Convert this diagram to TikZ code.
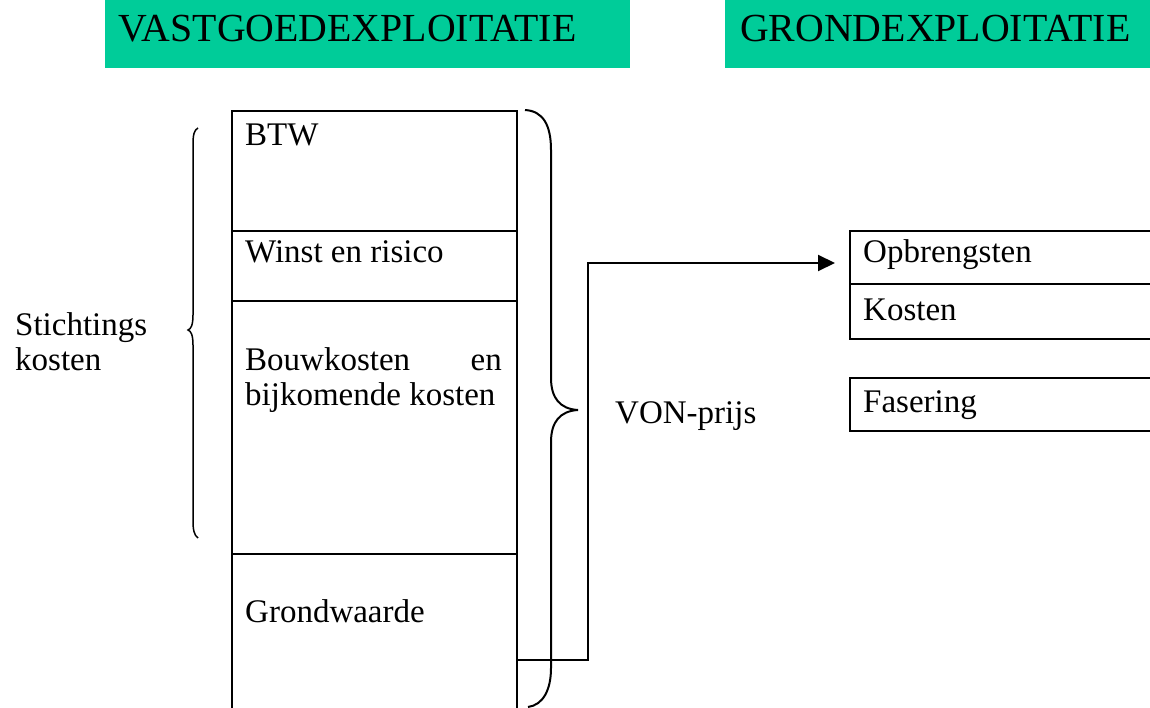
\documentclass[tikz,border=0pt]{standalone}
\usepackage{fontspec}
\setmainfont{Liberation Serif}
\usetikzlibrary{arrows.meta}
\definecolor{headgreen}{RGB}{0,204,153}
\tikzset{
  cell/.style={draw, line width=2pt, rectangle, inner sep=0pt, anchor=north west},
  txt/.style={anchor=base west, inner sep=0pt, font=\fontsize{33}{39}\selectfont},
  head/.style={anchor=base west, inner sep=0pt, font=\fontsize{39.8}{46}\selectfont},
  headbox/.style={fill=headgreen, draw=none, rectangle, inner sep=0pt, anchor=north west},
  brace/.style={line width=2pt},
  conn/.style={line width=2pt, -{Triangle[length=17pt,width=16pt]}}
}
\begin{document}
\begin{tikzpicture}[x=1pt,y=-1pt]
\clip (0,0) rectangle (1150,708);
\fill[white] (0,0) rectangle (1150,708);
% headings
\node[headbox, minimum width=525pt, minimum height=68pt] (hv) at (105,0) {};
\node[headbox, minimum width=440pt, minimum height=68pt] (hg) at (725,0) {};
\node[head] (hvt) at (118,42) {VASTGOEDEXPLOITATIE};
\node[head] (hgt) at (740,42) {GRONDEXPLOITATIE};
% column cells
\node[cell, minimum width=285pt, minimum height=120pt] (btw) at (231,110) {};
\node[cell, minimum width=285pt, minimum height=70pt] (winst) at (231,230) {};
\node[cell, minimum width=285pt, minimum height=253pt] (bouw) at (231,300) {};
\node[cell, minimum width=285pt, minimum height=180pt] (grond) at (231,553) {};
\node[txt] (btwt) at (245,146) {BTW};
\node[txt] (winstt) at (245,263) {Winst en risico};
\node[txt] (bouwt1) at (245,370) {Bouwkosten};
\node[txt, anchor=base east] (bouwt2) at (502,370) {en};
\node[txt] (bouwt3) at (245,405) {bijkomende kosten};
\node[txt] (grondt) at (245,622) {Grondwaarde};
% left label
\node[txt] (sk1) at (15,335) {Stichtings};
\node[txt] (sk2) at (15,370) {kosten};
\node[txt] (von) at (615,423) {VON-prijs};
% right boxes
\node[cell, minimum width=320pt, minimum height=53pt] (opbr) at (849,230) {};
\node[cell, minimum width=320pt, minimum height=55pt] (kost) at (849,283) {};
\node[cell, minimum width=320pt, minimum height=53pt] (fas) at (849,377) {};
\node[txt] (opbrt) at (863,263) {Opbrengsten};
\node[txt] (kostt) at (863,320) {Kosten};
\node[txt] (fast) at (863,412) {Fasering};
% braces
\draw[brace] (525,110) .. controls (543,111) and (551,125) .. (551,150) -- (551,378)
  .. controls (551,398) and (560,409) .. (578,410)
  .. controls (560,411) and (551,422) .. (551,442) -- (551,668)
  .. controls (551,690) and (543,705) .. (528,707);
\draw[line width=1.5pt] (198,128) .. controls (194,130) and (193,135) .. (193,145) -- (193,315)
  .. controls (193,325) and (191,329) .. (188,330)
  .. controls (191,331) and (193,335) .. (193,345) -- (193,520)
  .. controls (193,530) and (194,535) .. (198,538);
% connector
\coordinate (vonstart) at (grond.east |- 0,660);
\coordinate (vonend) at (opbr.west |- 0,263);
\draw[conn, shorten >=14pt] (vonstart) -| (588,263) -- (vonend);
\end{tikzpicture}
\end{document}
